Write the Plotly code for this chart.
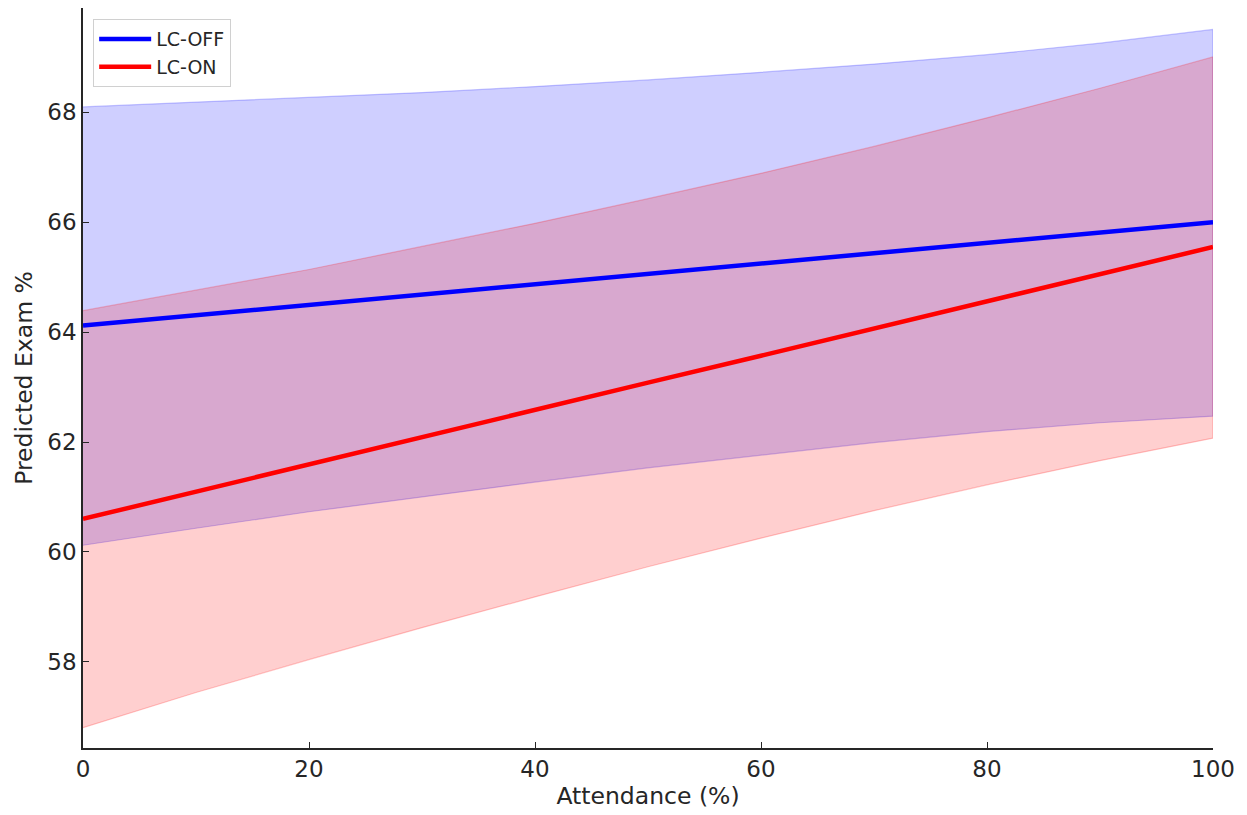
import plotly.graph_objects as go

# Attendance grid (%)
attendance = [0, 10, 20, 30, 40, 50, 60, 70, 80, 90, 100]

# LC-OFF: predicted line and confidence band
off_pred = [64.12, 64.31, 64.50, 64.68, 64.87, 65.06, 65.25, 65.44, 65.62, 65.81, 66.00]
off_upper = [68.10, 68.19, 68.27, 68.36, 68.47, 68.59, 68.73, 68.88, 69.05, 69.26, 69.51]
off_lower = [60.12, 60.43, 60.73, 61.00, 61.27, 61.53, 61.76, 61.99, 62.19, 62.35, 62.47]

# LC-ON: predicted line and confidence band
on_pred = [60.60, 61.10, 61.59, 62.09, 62.58, 63.08, 63.57, 64.07, 64.56, 65.06, 65.55]
on_upper = [64.39, 64.76, 65.14, 65.56, 65.98, 66.43, 66.89, 67.38, 67.90, 68.44, 69.01]
on_lower = [56.80, 57.44, 58.04, 58.62, 59.18, 59.73, 60.25, 60.75, 61.22, 61.66, 62.07]

series_names = ["LC-OFF", "LC-ON"]
x_ticks = [0, 20, 40, 60, 80, 100]
y_ticks = [58, 60, 62, 64, 66, 68]

FONT = "DejaVu Sans, Liberation Sans, sans-serif"
TXT = "#262626"

fig = go.Figure()

def band(upper, lower, fill, edge):
    return go.Scatter(
        x=attendance + attendance[::-1],
        y=upper + lower[::-1],
        fill="toself",
        fillcolor=fill,
        line=dict(color=edge, width=1.2),
        mode="lines",
        hoverinfo="skip",
        showlegend=False,
    )

fig.add_trace(band(off_upper, off_lower, "rgba(0,0,255,0.19)", "rgba(0,0,255,0.22)"))
fig.add_trace(band(on_upper, on_lower, "rgba(255,0,0,0.19)", "rgba(255,0,0,0.22)"))

fig.add_trace(go.Scatter(
    x=attendance, y=off_pred, mode="lines", name=series_names[0],
    line=dict(color="#0000ff", width=4.5), legendgroup="off",
))
fig.add_trace(go.Scatter(
    x=attendance, y=on_pred, mode="lines", name=series_names[1],
    line=dict(color="#ff0000", width=4.5), legendgroup="on",
))

axis_common = dict(
    showgrid=False, zeroline=False, showline=True, linecolor=TXT, linewidth=1.5,
    ticks="inside", ticklen=6, tickwidth=1.3, tickcolor=TXT,
    tickfont=dict(family=FONT, size=23, color=TXT), mirror=False,
)

fig.update_layout(
    width=1239, height=807,
    margin=dict(l=75, r=34, t=0, b=67),
    paper_bgcolor="white", plot_bgcolor="white",
    font=dict(family=FONT, color=TXT),
    xaxis=dict(
        range=[0, 100], tickvals=x_ticks,
        title=dict(text="Attendance (%)", font=dict(family=FONT, size=23.5, color=TXT), standoff=6),
        **axis_common,
    ),
    yaxis=dict(
        range=[56.43, 69.90], tickvals=y_ticks,
        title=dict(text="Predicted Exam %", font=dict(family=FONT, size=23.5, color=TXT), standoff=8),
        **axis_common,
    ),
    legend=dict(
        x=0.009, y=0.985, xanchor="left", yanchor="top",
        bgcolor="rgba(255,255,255,0.85)", bordercolor="#d0d0d0", borderwidth=1,
        font=dict(family=FONT, size=19, color=TXT),
        tracegroupgap=0, itemwidth=52,
    ),
    showlegend=True,
)

fig.write_html("out.html")
